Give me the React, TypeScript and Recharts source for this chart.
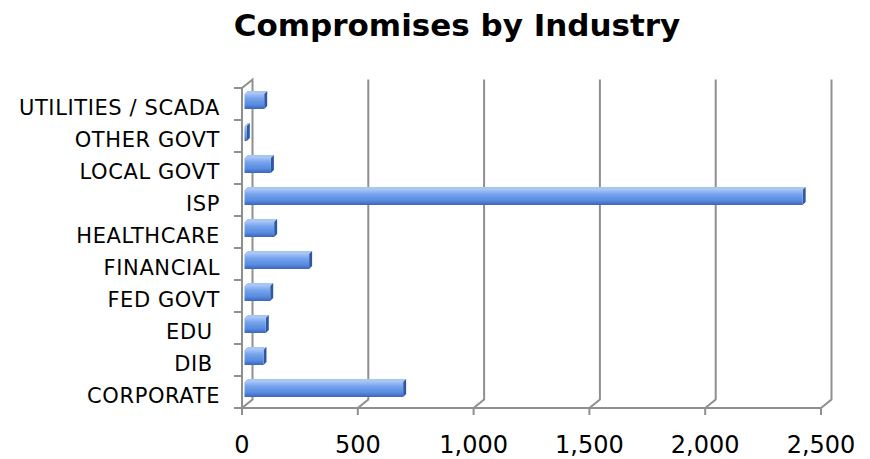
import React from 'react';
import { BarChart, Bar, XAxis, YAxis, CartesianGrid } from 'recharts';

// data, listed bottom to top as in the source sheet
const industries = [
    'CORPORATE',
    'DIB ',
    'EDU ',
    'FED GOVT',
    'FINANCIAL',
    'HEALTHCARE',
    'ISP',
    'LOCAL GOVT',
    'OTHER GOVT',
    'UTILITIES / SCADA',
];
const compromises = [685, 82, 92, 111, 279, 128, 2410, 114, 10, 85];
const xTicks = [0, 500, 1000, 1500, 2000, 2500];

const chartData = industries.map((industry, i) => ({ industry, count: compromises[i] }));

const W = 870;
const H = 459;
const MARGIN = { top: 88, right: 49, bottom: 0, left: 0 };
const Y_AXIS_W = 242;
const X_AXIS_H = 51;
const PLOT_H = H - MARGIN.top - X_AXIS_H;
const HALF_BAND = PLOT_H / industries.length / 2;

// 3d depth offsets
const DX = 10.5;
const DY = 8.5;
const GRID = '#8f8f8f';
const FONT = 'Verdana, "DejaVu Sans", sans-serif';

const Bar3D = (props: any) => {
    const { x, y, width, height } = props;
    if (!width || width <= 0) return null;
    const fx = x + 2.5;
    const fy = y - 3;
    const d = 3;
    return (
        <g>
            <path
                d={`M${fx},${fy} L${fx + d},${fy - d} L${fx + width + d},${fy - d} L${fx + width},${fy} Z`}
                fill="#a8c6f3"
            />
            <path
                d={`M${fx + width},${fy} L${fx + width + d},${fy - d} L${fx + width + d},${fy + height - d} L${fx + width},${fy + height} Z`}
                fill="#2f58a3"
            />
            <rect x={fx} y={fy} width={width} height={height} fill="url(#barFace)" />
        </g>
    );
};

const gridLine = (p: any) => {
    const { x1, y1, y2, index } = p;
    let d = `M${x1},${y2} L${x1 + DX},${y2 - DY} L${x1 + DX},${y1 - DY}`;
    if (index === 0) d += ` L${x1},${y1}`;
    return <path key={`grid-${index}`} d={d} fill="none" stroke={GRID} strokeWidth={2} />;
};

const ValueTick = ({ x, y, payload }: any) => (
    <text x={x} y={y} dy={36} textAnchor="middle" fontFamily={FONT} fontSize={24} fill="#000">
        {Number(payload.value).toLocaleString('en-US')}
    </text>
);

const CategoryTick = ({ x, y, payload }: any) => (
    <g>
        <line x1={x + 14} x2={x + 22} y1={y - HALF_BAND} y2={y - HALF_BAND} stroke={GRID} strokeWidth={2} />
        <line x1={x + 14} x2={x + 22} y1={y + HALF_BAND} y2={y + HALF_BAND} stroke={GRID} strokeWidth={2} />
        <text
            x={x}
            y={y + 4}
            dy="0.355em"
            textAnchor="end"
            fontFamily={FONT}
            fontSize={21}
            letterSpacing={0.6}
            fill="#000"
            style={{ whiteSpace: 'pre' }}
        >
            {payload.value}
        </text>
    </g>
);

export default function App() {
    return (
        <div style={{ position: 'absolute', left: 0, top: 0, width: W, height: H, background: '#fff' }}>
            <svg width={W} height={50} style={{ position: 'absolute', left: 0, top: 0 }}>
                <text
                    x={457}
                    y={36}
                    textAnchor="middle"
                    fontFamily={FONT}
                    fontWeight="bold"
                    fontSize={31}
                    fill="#000"
                >
                    Compromises by Industry
                </text>
            </svg>
            <BarChart width={W} height={H} data={chartData} layout="vertical" margin={MARGIN}>
                <defs>
                    <linearGradient id="barFace" x1="0" y1="0" x2="0" y2="1">
                        <stop offset="0%" stopColor="#a3c2f4" />
                        <stop offset="30%" stopColor="#74a2ec" />
                        <stop offset="70%" stopColor="#5a8be0" />
                        <stop offset="100%" stopColor="#3b67b6" />
                    </linearGradient>
                </defs>
                <CartesianGrid horizontal={false} vertical={gridLine} />
                <XAxis
                    type="number"
                    domain={[0, 2500]}
                    ticks={xTicks}
                    height={X_AXIS_H}
                    axisLine={{ stroke: GRID, strokeWidth: 2 }}
                    tickLine={{ stroke: GRID, strokeWidth: 2 }}
                    tickSize={7}
                    tick={<ValueTick />}
                    interval={0}
                />
                <YAxis
                    type="category"
                    dataKey="industry"
                    reversed
                    width={Y_AXIS_W}
                    axisLine={{ stroke: GRID, strokeWidth: 2 }}
                    tickLine={false}
                    tickSize={8}
                    tickMargin={14}
                    tick={<CategoryTick />}
                    interval={0}
                />
                <Bar dataKey="count" barSize={15} shape={<Bar3D />} isAnimationActive={false} />
            </BarChart>
        </div>
    );
}
